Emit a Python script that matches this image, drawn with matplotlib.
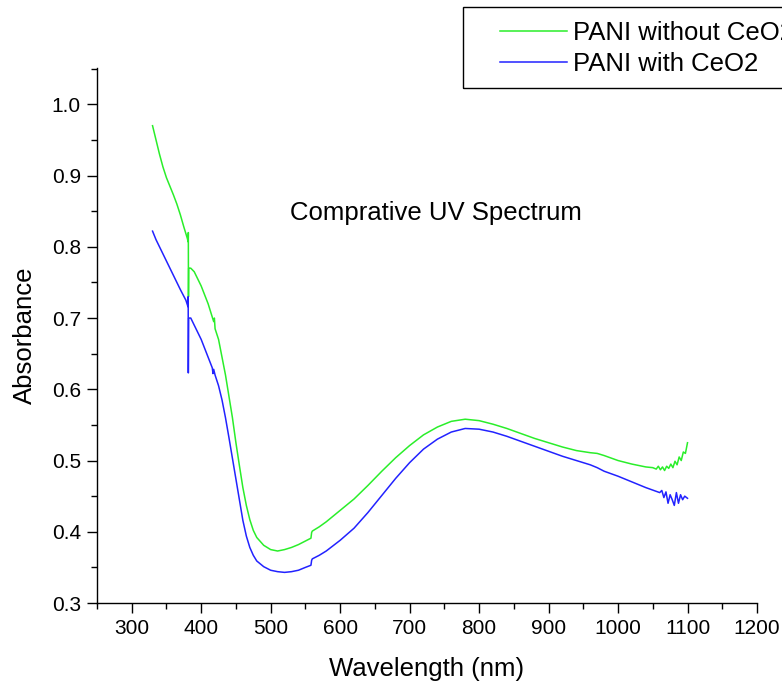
from matplotlib import pyplot as plt
from matplotlib.patches import Rectangle
from matplotlib.ticker import MultipleLocator

# PANI without CeO2 (green)
wl_plain = [330, 335, 340, 345, 350, 355, 360, 365, 370, 375, 380, 381.3,
	381.5, 381.7, 382, 385, 390, 400, 410, 418, 419, 420, 425, 430, 435,
	440, 445, 450, 455, 460, 465, 470, 475, 480, 490, 500, 510, 520, 530,
	540, 550, 558, 559, 560, 570, 580, 600, 620, 640, 660, 680, 700, 720,
	740, 760, 780, 800, 820, 840, 860, 880, 900, 920, 940, 960, 970, 980,
	1000, 1020, 1040, 1050, 1055, 1058, 1061, 1064, 1067, 1070, 1073,
	1076, 1079, 1082, 1085, 1088, 1091, 1094, 1097, 1100]
abs_plain = [0.970, 0.950, 0.930, 0.912, 0.897, 0.885, 0.873, 0.860, 0.845,
	0.828, 0.812, 0.807, 0.820, 0.730, 0.770, 0.770, 0.765, 0.745, 0.720,
	0.695, 0.700, 0.685, 0.670, 0.645, 0.620, 0.590, 0.560, 0.525, 0.493,
	0.462, 0.437, 0.417, 0.402, 0.392, 0.381, 0.375, 0.373, 0.375, 0.378,
	0.382, 0.387, 0.391, 0.399, 0.401, 0.407, 0.414, 0.430, 0.446, 0.465,
	0.485, 0.504, 0.521, 0.536, 0.547, 0.555, 0.558, 0.556, 0.551, 0.545,
	0.538, 0.531, 0.525, 0.519, 0.514, 0.511, 0.510, 0.507, 0.500, 0.495,
	0.491, 0.490, 0.488, 0.492, 0.487, 0.491, 0.486, 0.492, 0.489, 0.495,
	0.490, 0.499, 0.494, 0.505, 0.500, 0.512, 0.510, 0.525]

# PANI with CeO2 (blue)
wl_ceo2 = [330, 335, 340, 350, 360, 370, 378, 381, 381.3, 381.5, 382, 385,
	390, 400, 410, 416, 417, 418, 420, 425, 430, 435, 440, 445, 450, 455,
	460, 465, 470, 475, 480, 490, 500, 510, 520, 530, 540, 550, 558, 559,
	560, 570, 580, 600, 620, 640, 660, 680, 700, 720, 740, 760, 780, 800,
	820, 840, 860, 880, 900, 920, 940, 960, 970, 980, 1000, 1020, 1040,
	1060, 1063, 1066, 1069, 1072, 1075, 1078, 1081, 1084, 1087, 1090,
	1093, 1096, 1100]
abs_ceo2 = [0.822, 0.810, 0.800, 0.780, 0.760, 0.740, 0.725, 0.716, 0.730,
	0.623, 0.700, 0.700, 0.690, 0.670, 0.645, 0.630, 0.622, 0.628, 0.620,
	0.605, 0.585, 0.560, 0.532, 0.503, 0.474, 0.445, 0.416, 0.394, 0.378,
	0.367, 0.359, 0.351, 0.346, 0.344, 0.343, 0.344, 0.346, 0.350, 0.353,
	0.360, 0.362, 0.367, 0.373, 0.388, 0.405, 0.427, 0.451, 0.475, 0.497,
	0.516, 0.530, 0.540, 0.545, 0.544, 0.540, 0.534, 0.527, 0.520, 0.513,
	0.506, 0.500, 0.494, 0.490, 0.485, 0.478, 0.470, 0.462, 0.455, 0.458,
	0.448, 0.456, 0.440, 0.452, 0.445, 0.437, 0.455, 0.440, 0.452, 0.445,
	0.450, 0.447]

plt.rcParams['font.family'] = ['Liberation Sans', 'DejaVu Sans']

fig = plt.figure(figsize=(7.82, 6.84), dpi=100)
ax = fig.add_axes([0.124, 0.1184, 0.844, 0.7822])

ax.plot(wl_plain, abs_plain, color='#2aee2a', lw=1.1, label='PANI without CeO2')
ax.plot(wl_ceo2, abs_ceo2, color='#2222ff', lw=1.1, label='PANI with CeO2')

ax.set_xlim(250, 1200)
ax.set_ylim(0.3, 1.051)
ax.xaxis.set_minor_locator(MultipleLocator(50))
ax.yaxis.set_minor_locator(MultipleLocator(0.05))
ax.set_xticks(range(300, 1201, 100))
ax.set_yticks([0.3, 0.4, 0.5, 0.6, 0.7, 0.8, 0.9, 1.0])
ax.set_yticklabels(['0.3', '0.4', '0.5', '0.6', '0.7', '0.8', '0.9', '1.0'])

for s in ['top', 'right']:
	ax.spines[s].set_visible(False)
for s in ['left', 'bottom']:
	ax.spines[s].set_linewidth(1.0)
ax.tick_params(which='major', direction='out', length=7.5, width=1.0, labelsize=15, pad=4)
ax.tick_params(which='minor', direction='out', length=4.5, width=1.0)

ax.set_xlabel('Wavelength (nm)', fontsize=18.5, labelpad=14)
ax.set_ylabel('Absorbance', fontsize=18.5, labelpad=11)

ax.text(738, 0.8476, 'Comprative UV Spectrum', fontsize=18.5, ha='center', va='center')

# legend frame runs off the right edge, as in the original
fig.add_artist(Rectangle((463 / 782, 1 - 88 / 684), 0.5, 81 / 684,
	transform=fig.transFigure, fill=False, edgecolor='black', lw=1.0))
fig.legend(loc='upper left', bbox_to_anchor=(500 / 782, 1 - 21 / 684),
	fontsize=18.5, frameon=False, handlelength=2.6, handletextpad=0.25,
	labelspacing=0.28, borderpad=0, borderaxespad=0)

plt.savefig('out.png', dpi=100)
